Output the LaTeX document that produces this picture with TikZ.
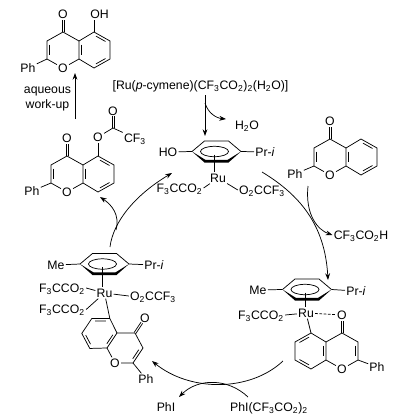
\documentclass[tikz,border=0pt]{standalone}
\usepackage{fontspec}
\setmainfont{Liberation Sans}
\usetikzlibrary{arrows.meta,calc}
\tikzset{
  every node/.style={font=\fontsize{9.2}{11}\selectfont},
  atom/.style={inner sep=.8pt,text height=6.5pt,text depth=0pt},
  bond/.style={line width=.55pt},
  arc/.style={line width=.55pt,-{Stealth[length=5pt,width=3.6pt]}}
}
\newcommand{\inbond}[3]{\draw[bond] ($(#1)!.14!(#2)!.17!(#3)$) -- ($(#2)!.14!(#1)!.17!(#3)$);}
% carbonyl, two lines side by side
\newcommand{\dblbond}[2]{
\coordinate (dblend) at ($(#1)!.68!(#2)$);
\draw[bond] ($(#1)!.75pt!90:(#2)$) -- ($(dblend)!.75pt!-90:(#1)$);
\draw[bond] ($(#1)!.75pt!-90:(#2)$) -- ($(dblend)!.75pt!90:(#1)$);
}
% flavone skeleton, #1 = prefix of names, #2 = placement
\newcommand{\flavone}[2]{
\begin{scope}[cm={#2}]
\coordinate (#1k) at (0,0);
\coordinate (#1c3) at (-16,9);
\coordinate (#1c2) at (-16,27);
\coordinate (#1j) at (16,27);
\coordinate (#1i) at (16,9);
\coordinate (#1c5) at (31,0);
\coordinate (#1c6) at (47,9);
\coordinate (#1c7) at (47,27);
\coordinate (#1c8) at (31,36);
\coordinate (#1m1) at (0,18);
\coordinate (#1m2) at (31.5,18);
\node[atom] (#1o1) at (0,36) {O};
\node[atom] (#1o4) at (0,-18) {O};
\end{scope}
\dblbond{#1k}{#1o4}
\draw[bond] (#1k) -- (#1c3) -- (#1c2) -- (#1o1) -- (#1j) -- (#1i) -- (#1k);
\draw[bond] (#1i) -- (#1c5) -- (#1c6) -- (#1c7) -- (#1c8) -- (#1j);
\inbond{#1c3}{#1c2}{#1m1}
\inbond{#1i}{#1j}{#1m2}
\inbond{#1c5}{#1c6}{#1m2}
\inbond{#1c7}{#1c8}{#1m2}
}
% coordinated arene ring, #1 = prefix of names, #2 = centre
\newcommand{\arene}[2]{
\begin{scope}[shift={#2}]
\coordinate (#1l) at (-24.5,0);
\coordinate (#1tl) at (-12,-10.5);
\coordinate (#1tr) at (12,-10.5);
\coordinate (#1r) at (24.5,0);
\coordinate (#1t) at (-2,3);
\draw[bond] (#1l) -- (#1tl) -- (#1tr) -- (#1r);
\draw[bond] (-2,0) ellipse (14 and 5.2);
\fill (#1l) -- (-12,11) -- (12,11) -- (#1r) -- (11,8.4) -- (-11,8.4) -- cycle;
\end{scope}
}
\begin{document}
\begin{tikzpicture}[x=.75pt,y=-.75pt]
\useasboundingbox (0,0) rectangle (401,419);
% top right precursor
\node[atom] (prec) at (200.5,85) {[Ru(\textit{p}-cymene)(CF\textsubscript{3}CO\textsubscript{2})\textsubscript{2}(H\textsubscript{2}O)]};
\node[atom] (water) at (247,125) {H\textsubscript{2}O};
\coordinate (prec1) at (205,95);
\coordinate (prec2) at (205,136);
\coordinate (prec3) at (205,103);
\coordinate (water1) at (226,119);
\draw[arc] (prec1) -- (prec2);
\draw[arc] (prec3) .. controls (208,113) and (216,118) .. (water1);
% catalyst
\arene{a}{(216.5,151.5)}
\node[atom] (hoa) at (168,152) {HO};
\node[atom,anchor=west] (pria) at (254,152) {Pr-\textit{i}};
\node[atom] (rua) at (218,178) {Ru};
\node[atom] (fa) at (179.5,188) {F\textsubscript{3}CCO\textsubscript{2}};
\node[atom] (oa) at (262,190) {O\textsubscript{2}CCF\textsubscript{3}};
\draw[bond] (hoa) -- (al);
\draw[bond] (ar) -- (pria);
\draw[bond] (at) -- (at |- rua.north);
\draw[bond] (fa.east) -- (rua);
\draw[bond] (oa.west) -- (rua);
% 5-hydroxyflavone
\flavone{fa}{1,0,0,1,(63,32)}
\node[atom,anchor=west] (oh) at (89,14) {OH};
\node[atom] (pha) at (28,68) {Ph};
\draw[bond] (fac5) -- (oh.south -| fac5);
\draw[bond] (fac2) -- (pha);
\coordinate (wk1) at (75,119);
\coordinate (wk2) at (75,73);
\draw[arc] (wk1) -- (wk2);
\node[align=center,inner sep=0pt] (wk) at (47.5,99) {aqueous\\work-up};
% trifluoroacetate
\flavone{fb}{1,0,0,1,(67,156)}
\node[atom] (phb) at (32,191) {Ph};
\node[atom] (ob) at (98,137) {O};
\coordinate (cb) at (113,128);
\node[atom] (ob2) at (113,111) {O};
\node[atom] (cfb) at (135,138) {CF\textsubscript{3}};
\draw[bond] (fbc2) -- (phb);
\draw[bond] (fbc5) -- (ob);
\draw[bond] (ob) -- (cb);
\dblbond{cb}{ob2}
\draw[bond] (cb) -- (cfb);
% flavone
\flavone{fc}{1,0,0,1,(330,139)}
\node[atom] (phc) at (295,174) {Ph};
\draw[bond] (fcc2) -- (phc);
% cycloruthenated flavone, right
\arene{d}{(307,289.5)}
\flavone{fd}{-1,0,0,1,(342,333)}
\node[atom] (med) at (258,290) {Me};
\node[atom,anchor=west] (prid) at (345,291) {Pr-\textit{i}};
\node[atom] (rud) at (306,313) {Ru};
\node[atom] (fd) at (261,315) {F\textsubscript{3}CCO\textsubscript{2}};
\node[atom] (phd) at (377,367) {Ph};
\draw[bond] (med) -- (dl);
\draw[bond] (dr) -- (prid);
\draw[bond] (dt) -- (dt |- rud.north);
\draw[bond] (fd.east) -- (rud);
\draw[bond] (rud) -- (fdc5);
\draw[bond,dash pattern=on 2pt off 1.2pt] (rud) -- (fdo4);
\draw[bond] (fdc2) -- (phd);
% ruthenium(IV), left
\arene{e}{(104.5,264)}
\flavone{fe}{-.8125,.469,.556,.833,(135,333)}
\node[atom] (mee) at (56,265) {Me};
\node[atom,anchor=west] (prie) at (143,265) {Pr-\textit{i}};
\node[atom] (rue) at (104.5,293) {Ru};
\node[atom] (fe) at (62,288) {F\textsubscript{3}CCO\textsubscript{2}};
\node[atom] (fe2) at (62,309.5) {F\textsubscript{3}CCO\textsubscript{2}};
\node[atom] (oe) at (153,296) {O\textsubscript{2}CCF\textsubscript{3}};
\node[atom] (phe) at (146,379) {Ph};
\draw[bond] (mee) -- (el);
\draw[bond] (er) -- (prie);
\draw[bond] (et) -- (et |- rue.north);
\draw[bond] (fe.east) -- (rue);
\draw[bond] (fe2.east) -- (rue);
\draw[bond] (oe.west) -- (rue);
\draw[bond] (rue) -- (fec5);
\draw[bond] (fec2) -- (phe);
% cycle arrows
\coordinate (r1) at (262,172);
\coordinate (r2) at (328,280);
\draw[arc] (r1) .. controls (300,195) and (325,225) .. (r2);
\coordinate (r3) at (308,186);
\node[atom] (acid) at (361,235) {CF\textsubscript{3}CO\textsubscript{2}H};
\draw[arc] (r3) .. controls (305,215) and (318,230) .. (acid.west);
\coordinate (b1) at (283,361);
\coordinate (b2) at (152,361);
\draw[arc] (b1) .. controls (250,392) and (190,392) .. (b2);
\node[atom] (phi) at (166,407) {PhI};
\node[atom] (phio) at (269,407) {PhI(CF\textsubscript{3}CO\textsubscript{2})\textsubscript{2}};
\coordinate (b3) at (248,397);
\coordinate (b4) at (179,397);
\draw[arc] (b3) .. controls (228,378) and (198,378) .. (b4);
\coordinate (l1) at (110,247);
\coordinate (l2) at (172,173);
\draw[arc] (l1) .. controls (113,222) and (135,195) .. (l2);
\coordinate (l3) at (116,230);
\coordinate (l4) at (100,197);
\draw[arc] (l3) .. controls (120,215) and (112,205) .. (l4);
\end{tikzpicture}
\end{document}
